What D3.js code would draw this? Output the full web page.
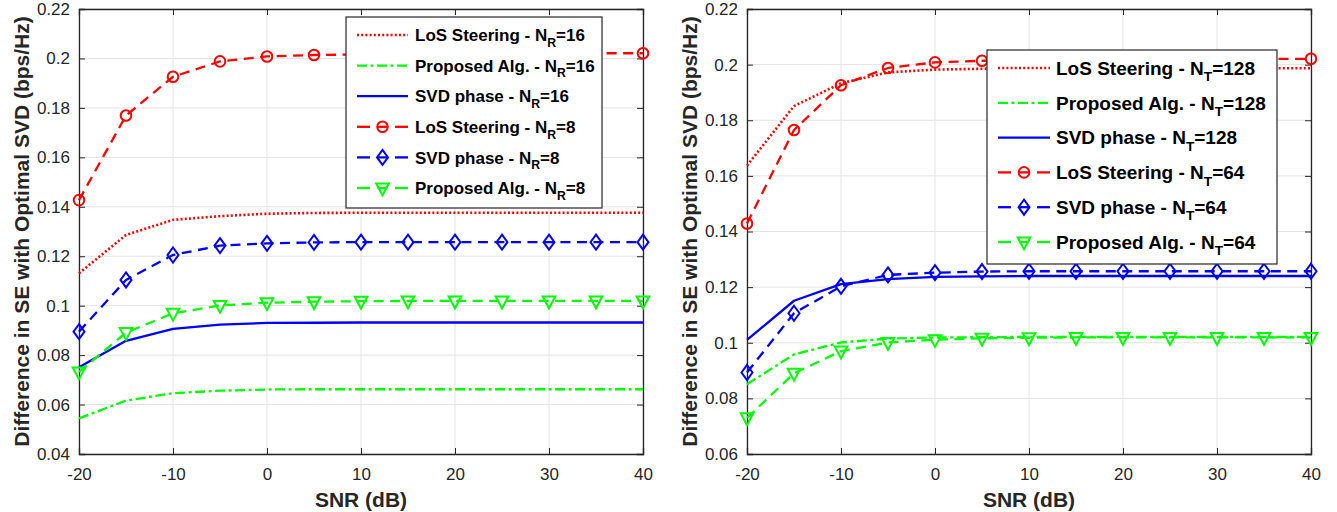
<!DOCTYPE html>
<html><head><meta charset="utf-8">
<script src="https://cdn.jsdelivr.net/npm/d3@7"></script>
<style>body{margin:0;background:#fff}svg{display:block}</style>
</head><body>
<svg id="c" width="1337" height="512"></svg>
<script>
// ---------- data ----------
const snr = [-20,-15,-10,-5,0,5,10,15,20,25,30,35,40];
const xTicks = [-20,-10,0,10,20,30,40];
const xTickLabels = ["-20","-10","0","10","20","30","40"];
const yTicksLeft = [0.04,0.06,0.08,0.1,0.12,0.14,0.16,0.18,0.2,0.22];
const yTickLabelsLeft = ["0.04","0.06","0.08","0.1","0.12","0.14","0.16","0.18","0.2","0.22"];
const yTicksRight = [0.06,0.08,0.1,0.12,0.14,0.16,0.18,0.2,0.22];
const yTickLabelsRight = ["0.06","0.08","0.1","0.12","0.14","0.16","0.18","0.2","0.22"];

// Left panel (N_R)
const losNR16  = [0.1131,0.1286,0.1347,0.1362,0.1372,0.1375,0.1376,0.1376,0.1376,0.1376,0.1376,0.1376,0.1376];
const propNR16 = [0.0544,0.0616,0.0646,0.0656,0.0661,0.0662,0.0662,0.0662,0.0662,0.0662,0.0662,0.0662,0.0662];
const svdNR16  = [0.0751,0.0858,0.0906,0.0923,0.0930,0.0931,0.0932,0.0932,0.0932,0.0932,0.0932,0.0932,0.0932];
const losNR8   = [0.1427,0.1769,0.1926,0.1988,0.2008,0.2014,0.2016,0.2018,0.2019,0.2020,0.2020,0.2021,0.2021];
const svdNR8   = [0.0895,0.1104,0.1205,0.1243,0.1252,0.1256,0.1257,0.1257,0.1257,0.1257,0.1257,0.1257,0.1257];
const propNR8  = [0.0732,0.0891,0.0969,0.1001,0.1012,0.1016,0.1018,0.1019,0.1019,0.1019,0.1019,0.1019,0.1019];

// Right panel (N_T)
const losNT128  = [0.1637,0.1851,0.1933,0.1972,0.1982,0.1985,0.1986,0.1986,0.1987,0.1987,0.1987,0.1987,0.1987];
const propNT128 = [0.0851,0.0958,0.1001,0.1015,0.1019,0.1020,0.1021,0.1021,0.1021,0.1021,0.1021,0.1021,0.1021];
const svdNT128  = [0.1010,0.1151,0.1211,0.1229,0.1237,0.1239,0.1240,0.1240,0.1240,0.1240,0.1240,0.1240,0.1240];
const losNT64   = [0.1429,0.1765,0.1926,0.1988,0.2008,0.2014,0.2016,0.2018,0.2019,0.2020,0.2020,0.2021,0.2021];
const svdNT64   = [0.0893,0.1106,0.1203,0.1244,0.1252,0.1256,0.1257,0.1257,0.1257,0.1257,0.1257,0.1257,0.1257];
const propNT64  = [0.0730,0.0890,0.0970,0.1001,0.1011,0.1016,0.1018,0.1019,0.1019,0.1019,0.1019,0.1019,0.1019];

const yLabel = "Difference in SE with Optimal SVD (bps/Hz)";
const xLabel = "SNR (dB)";

// ---------- styles ----------
const RED="#ff0000", GREEN="#00ff00", BLUE="#0000ff", AX="#262626";
const styles = {
  los:   {color:RED,   dash:"2,2.2", width:2.6, marker:null},
  prop:  {color:GREEN, dash:"10,3.5,3,3.5", width:2.3, marker:null},
  svd:   {color:BLUE,  dash:null,  width:2.3, marker:null},
  losM:  {color:RED,   dash:"10,6.5", width:2.3, marker:"circle"},
  svdM:  {color:BLUE,  dash:"10,6.5", width:2.3, marker:"diamond"},
  propM: {color:GREEN, dash:"10,6.5", width:2.3, marker:"tri"}
};

const panels = [
  {x0:79, x1:643, y0:9, y1:454, ydom:[0.04,0.22], yTicks:yTicksLeft, yLabs:yTickLabelsLeft, ylabX:22,
   series:[
     {v:losNR16, s:"los",  name:"LoS Steering - N", sub:"R", tail:"=16"},
     {v:propNR16,s:"prop", name:"Proposed Alg. - N", sub:"R", tail:"=16"},
     {v:svdNR16, s:"svd",  name:"SVD phase - N", sub:"R", tail:"=16"},
     {v:losNR8,  s:"losM", name:"LoS Steering - N", sub:"R", tail:"=8"},
     {v:svdNR8,  s:"svdM", name:"SVD phase - N", sub:"R", tail:"=8"},
     {v:propNR8, s:"propM",name:"Proposed Alg. - N", sub:"R", tail:"=8"}],
   leg:{x0:346, x1:602, y0:17, y1:208, first:35, step:30.6, l0:357, l1:408, tx:415, fs:17}},
  {x0:747, x1:1311, y0:9, y1:454, ydom:[0.06,0.22], yTicks:yTicksRight, yLabs:yTickLabelsRight, ylabX:690,
   series:[
     {v:losNT128, s:"los",  name:"LoS Steering - N", sub:"T", tail:"=128"},
     {v:propNT128,s:"prop", name:"Proposed Alg. - N", sub:"T", tail:"=128"},
     {v:svdNT128, s:"svd",  name:"SVD phase - N", sub:"T", tail:"=128"},
     {v:losNT64,  s:"losM", name:"LoS Steering - N", sub:"T", tail:"=64"},
     {v:svdNT64,  s:"svdM", name:"SVD phase - N", sub:"T", tail:"=64"},
     {v:propNT64, s:"propM",name:"Proposed Alg. - N", sub:"T", tail:"=64"}],
   leg:{x0:987, x1:1277, y0:50, y1:264, first:68, step:34.8, l0:998, l1:1050, tx:1056, fs:19}}
];

const svg = d3.select("#c");
const FONT = "'Liberation Sans', Arial, Helvetica, sans-serif";

function drawMarker(g, type, cx, cy, color){
  if(type==="circle"){
    g.append("circle").attr("cx",cx).attr("cy",cy).attr("r",5.3)
     .attr("fill","none").attr("stroke",color).attr("stroke-width",2);
  } else if(type==="diamond"){
    const w=5.5,h=7.5;
    g.append("path").attr("d",`M${cx},${cy-h}L${cx+w},${cy}L${cx},${cy+h}L${cx-w},${cy}Z`)
     .attr("fill","none").attr("stroke",color).attr("stroke-width",2);
  } else if(type==="tri"){
    const w=6.3;
    g.append("path").attr("d",`M${cx-w},${cy-4.5}L${cx+w},${cy-4.5}L${cx},${cy+7.3}Z`)
     .attr("fill","none").attr("stroke",color).attr("stroke-width",2);
  }
}

panels.forEach(p=>{
  const x = d3.scaleLinear().domain([-20,40]).range([p.x0,p.x1]);
  const y = d3.scaleLinear().domain(p.ydom).range([p.y1,p.y0]);
  const g = svg.append("g");

  // grid
  const grid = g.append("g");
  xTicks.forEach(t=>{ grid.append("line").attr("x1",x(t)).attr("x2",x(t)).attr("y1",p.y0).attr("y2",p.y1)
     .attr("stroke","#e3e3e3").attr("stroke-width",1); });
  p.yTicks.forEach(t=>{ grid.append("line").attr("x1",p.x0).attr("x2",p.x1).attr("y1",y(t)).attr("y2",y(t))
     .attr("stroke","#e3e3e3").attr("stroke-width",1); });

  // axes via d3 axis (inward ticks), all four sides
  const xb = d3.axisBottom(x).tickValues(xTicks).tickSize(-6).tickPadding(14).tickFormat((d,i)=>xTickLabels[i]);
  const xt = d3.axisTop(x).tickValues(xTicks).tickSize(-6).tickFormat("");
  const yl = d3.axisLeft(y).tickValues(p.yTicks).tickSize(-6).tickPadding(9).tickFormat((d,i)=>p.yLabs[i]);
  const yr = d3.axisRight(y).tickValues(p.yTicks).tickSize(-6).tickFormat("");
  const axs = [
    g.append("g").attr("transform",`translate(0,${p.y1})`).call(xb),
    g.append("g").attr("transform",`translate(0,${p.y0})`).call(xt),
    g.append("g").attr("transform",`translate(${p.x0},0)`).call(yl),
    g.append("g").attr("transform",`translate(${p.x1},0)`).call(yr)
  ];
  axs.forEach(a=>{
    a.select(".domain").attr("stroke",AX).attr("stroke-width",1.3);
    a.selectAll(".tick line").attr("stroke",AX).attr("stroke-width",1);
    a.selectAll("text").attr("fill",AX).style("font-family",FONT).style("font-size","17px");
  });

  // axis labels
  g.append("text").attr("x",(p.x0+p.x1)/2).attr("y",507).attr("text-anchor","middle")
   .style("font-family",FONT).style("font-size","21px").style("font-weight","bold").attr("fill",AX).text(xLabel);
  g.append("text").attr("transform",`translate(${p.ylabX+7},${(p.y0+p.y1)/2}) rotate(-90)`).attr("text-anchor","middle")
   .style("font-family",FONT).style("font-size","21px").style("font-weight","bold").attr("fill",AX).text(yLabel);

  // series
  const line = d3.line().x((d,i)=>x(snr[i])).y(d=>y(d));
  p.series.forEach(se=>{
    const st = styles[se.s];
    g.append("path").attr("d",line(se.v)).attr("fill","none").attr("stroke",st.color)
     .attr("stroke-width",st.width).attr("stroke-dasharray",st.dash).attr("stroke-linejoin","round");
    if(st.marker){
      se.v.forEach((d,i)=>drawMarker(g, st.marker, x(snr[i]), y(d), st.color));
    }
  });

  // legend
  const L = p.leg;
  const lg = svg.append("g");
  lg.append("rect").attr("x",L.x0).attr("y",L.y0).attr("width",L.x1-L.x0).attr("height",L.y1-L.y0)
    .attr("fill","#fff").attr("stroke",AX).attr("stroke-width",1.2);
  p.series.forEach((se,i)=>{
    const st = styles[se.s];
    const cy = L.first + i*L.step;
    const mx = (L.l0+L.l1)/2;
    if(st.marker){
      [[L.l0, L.l0+13],[mx-5, mx+5],[L.l1-13, L.l1]].forEach(seg=>{
        lg.append("line").attr("x1",seg[0]).attr("x2",seg[1]).attr("y1",cy).attr("y2",cy)
          .attr("stroke",st.color).attr("stroke-width",st.width);
      });
      drawMarker(lg, st.marker, mx, cy, st.color);
    } else {
      lg.append("line").attr("x1",L.l0).attr("x2",L.l1).attr("y1",cy).attr("y2",cy)
        .attr("stroke",st.color).attr("stroke-width",st.width).attr("stroke-dasharray",st.dash);
    }
    const t = lg.append("text").attr("x",L.tx).attr("y",cy+L.fs*0.36)
      .style("font-family",FONT).style("font-size",L.fs+"px").style("font-weight","bold").attr("fill","#000");
    t.append("tspan").text(se.name);
    t.append("tspan").attr("dy",L.fs*0.33).style("font-size",(L.fs*0.72)+"px").text(se.sub);
    t.append("tspan").attr("dy",-L.fs*0.33).text(se.tail);
  });
});
</script>
</body></html>
